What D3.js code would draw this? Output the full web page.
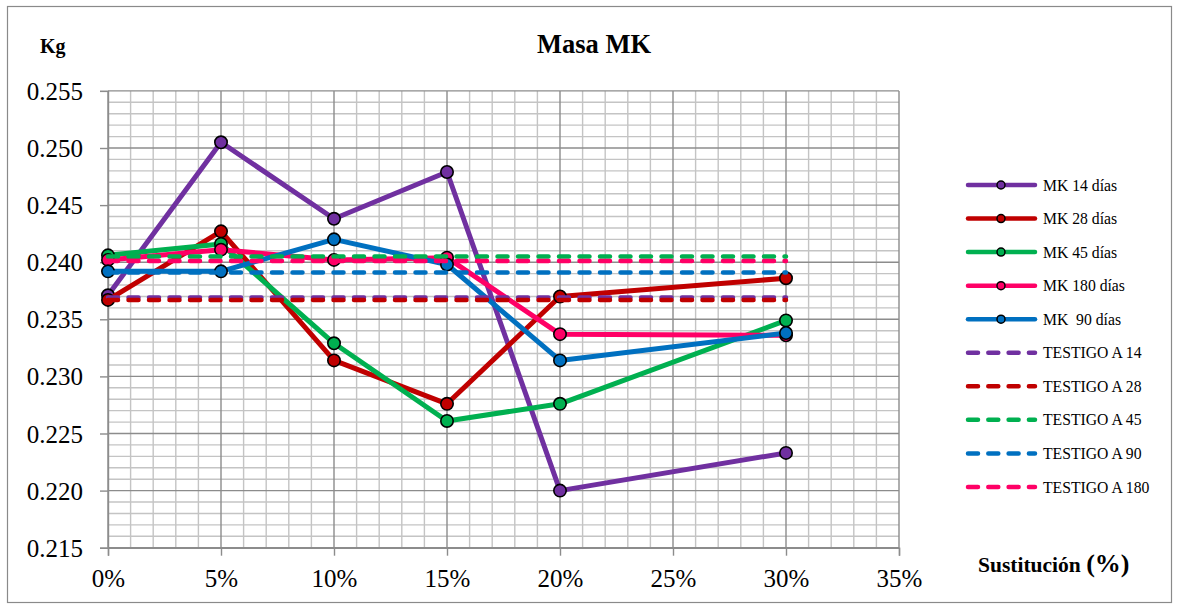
<!DOCTYPE html>
<html><head><meta charset="utf-8">
<script src="https://cdn.jsdelivr.net/npm/d3@7"></script>
<style>body{margin:0;background:#fff}svg{display:block}svg text{font-family:"Liberation Serif","Times New Roman",serif !important}</style>
</head><body><svg id="c" width="1179" height="608"></svg>
<script>
const xValues = [0, 5, 10, 15, 20, 30];
const seriesNames = ["MK 14 días", "MK 28 días", "MK 45 días", "MK 180 días", "MK  90 días"];
const mk14 = [0.2371, 0.2505, 0.2438, 0.2479, 0.2200, 0.2233];
const mk28 = [0.2367, 0.2427, 0.2314, 0.2276, 0.2370, 0.2386];
const mk45 = [0.2406, 0.2416, 0.2329, 0.2261, 0.2276, 0.2349];
const mk180 = [0.2402, 0.2411, 0.2402, 0.2404, 0.2337, 0.2336];
const mk90 = [0.2392, 0.2392, 0.2420, 0.2398, 0.2314, 0.2338];
const testigoNames = ["TESTIGO A 14", "TESTIGO A 28", "TESTIGO A 45", "TESTIGO A 90", "TESTIGO A 180"];
const testigoValues = [0.2369, 0.2367, 0.2405, 0.2391, 0.2401];
const yTicks = [0.215, 0.220, 0.225, 0.230, 0.235, 0.240, 0.245, 0.250, 0.255];
const xTicks = [0, 5, 10, 15, 20, 25, 30, 35];

const solidColors = ["#7030A0", "#C00000", "#00B050", "#FF0066", "#0070C0"];
const dashColors = ["#7030A0", "#C00000", "#00B050", "#0070C0", "#FF0066"];
const solidSeries = [mk14, mk28, mk45, mk180, mk90];
const SERIF = '"Liberation Serif", "Times New Roman", serif';

const svg = d3.select("#c").style("font-family", SERIF);
svg.append("rect").attr("x", 7.5).attr("y", 6.5).attr("width", 1164).attr("height", 596)
  .attr("fill", "#fff").attr("stroke", "#8a8a8a").attr("stroke-width", 1.2);

const x = d3.scaleLinear().domain([0, 35]).range([108, 899]);
const y = d3.scaleLinear().domain([0.215, 0.255]).range([547.7, 90.9]);

// grid
const g = svg.append("g");
const minorX = d3.range(0, 35.01, 1).filter(v => v % 5 !== 0);
const minorY = d3.range(0, 41).map(i => 0.215 + i * 0.001).filter((v, i) => i % 5 !== 0);
g.selectAll(".mx").data(minorX).join("line")
  .attr("x1", d => x(d)).attr("x2", d => x(d)).attr("y1", y(0.255)).attr("y2", y(0.215))
  .attr("stroke", "#c4c4c4").attr("stroke-width", 1.4);
g.selectAll(".my").data(minorY).join("line")
  .attr("x1", x(0)).attr("x2", x(35)).attr("y1", d => y(d)).attr("y2", d => y(d))
  .attr("stroke", "#c4c4c4").attr("stroke-width", 1.4);
g.selectAll(".Mx").data(xTicks).join("line")
  .attr("x1", d => x(d)).attr("x2", d => x(d)).attr("y1", y(0.255)).attr("y2", y(0.215))
  .attr("stroke", "#8c8c8c").attr("stroke-width", 1.4);
g.selectAll(".My").data(yTicks).join("line")
  .attr("x1", x(0)).attr("x2", x(35)).attr("y1", d => y(d)).attr("y2", d => y(d))
  .attr("stroke", "#8c8c8c").attr("stroke-width", 1.4);

// axes
const yAxis = d3.axisLeft(y).tickValues(yTicks).tickFormat(d3.format(".3f")).tickSize(8).tickPadding(17);
const ya = svg.append("g").attr("transform", `translate(${x(0)},0)`).call(yAxis).attr("font-family", null);
ya.select(".domain").attr("stroke", "#8c8c8c").attr("stroke-width", 1.4);
ya.selectAll(".tick line").attr("stroke", "#8c8c8c").attr("stroke-width", 1.4);
ya.selectAll("text").attr("fill", "#000").attr("dy", "0.34em")
  .style("font-family", SERIF).style("font-size", "25px");

const xAxis = d3.axisBottom(x).tickValues(xTicks).tickFormat(d => d + "%").tickSize(8).tickPadding(14);
const xa = svg.append("g").attr("transform", `translate(0,${y(0.215)})`).call(xAxis).attr("font-family", null);
xa.select(".domain").attr("stroke", "#8c8c8c").attr("stroke-width", 1.4);
xa.selectAll(".tick line").attr("stroke", "#8c8c8c").attr("stroke-width", 1.4);
xa.selectAll("text").attr("fill", "#000")
  .style("font-family", SERIF).style("font-size", "25px");

// solid series
const line = d3.line().x((d, i) => x(xValues[i])).y(d => y(d));
solidSeries.forEach((s, k) => {
  svg.append("path").datum(s).attr("d", line).attr("fill", "none")
    .attr("stroke", solidColors[k]).attr("stroke-width", 5).attr("stroke-linejoin", "round");
  svg.selectAll(null).data(s).join("circle")
    .attr("cx", (d, i) => x(xValues[i])).attr("cy", d => y(d)).attr("r", 6.2)
    .attr("fill", solidColors[k]).attr("stroke", "#000").attr("stroke-width", 1.6);
});
// dashed testigos
testigoValues.forEach((v, k) => {
  svg.append("line").attr("x1", x(xValues[0])).attr("x2", x(xValues[xValues.length - 1]))
    .attr("y1", y(v)).attr("y2", y(v))
    .attr("stroke", dashColors[k]).attr("stroke-width", 4.5)
    .attr("stroke-dasharray", "10,10.5").attr("stroke-linecap", "round");
});

// titles
svg.append("text").attr("x", 594).attr("y", 53).attr("text-anchor", "middle")
  .style("font-family", SERIF).style("font-size", "26.5px").attr("font-weight", "bold").text("Masa MK");
svg.append("text").attr("x", 40).attr("y", 53)
  .style("font-family", SERIF).style("font-size", "20px").attr("font-weight", "bold").text("Kg");
const st = svg.append("text").attr("x", 978).attr("y", 572).style("font-family", SERIF)
  .style("font-size", "21.5px").attr("font-weight", "bold");
st.append("tspan").text("Sustitución ");
st.append("tspan").style("font-size", "26px").text("(%)");

// legend
const legendItems = seriesNames.map((n, i) => ({ name: n, color: solidColors[i], dashed: false }))
  .concat(testigoNames.map((n, i) => ({ name: n, color: dashColors[i], dashed: true })));
const ly0 = 185, lstep = 33.55;
legendItems.forEach((it, i) => {
  const yy = ly0 + i * lstep;
  svg.append("line").attr("x1", 968).attr("x2", 1035).attr("y1", yy).attr("y2", yy)
    .attr("stroke", it.color).attr("stroke-width", 4.5).attr("stroke-linecap", "round")
    .attr("stroke-dasharray", it.dashed ? "10,10.3" : null);
  if (!it.dashed) {
    svg.append("circle").attr("cx", 1001).attr("cy", yy).attr("r", 4)
      .attr("fill", it.color).attr("stroke", "#000").attr("stroke-width", 1.5);
  }
  svg.append("text").attr("x", 1043).attr("y", yy + 5.6)
    .style("font-family", SERIF).style("font-size", "15.7px").style("white-space", "pre").text(it.name);
});
</script></body></html>
